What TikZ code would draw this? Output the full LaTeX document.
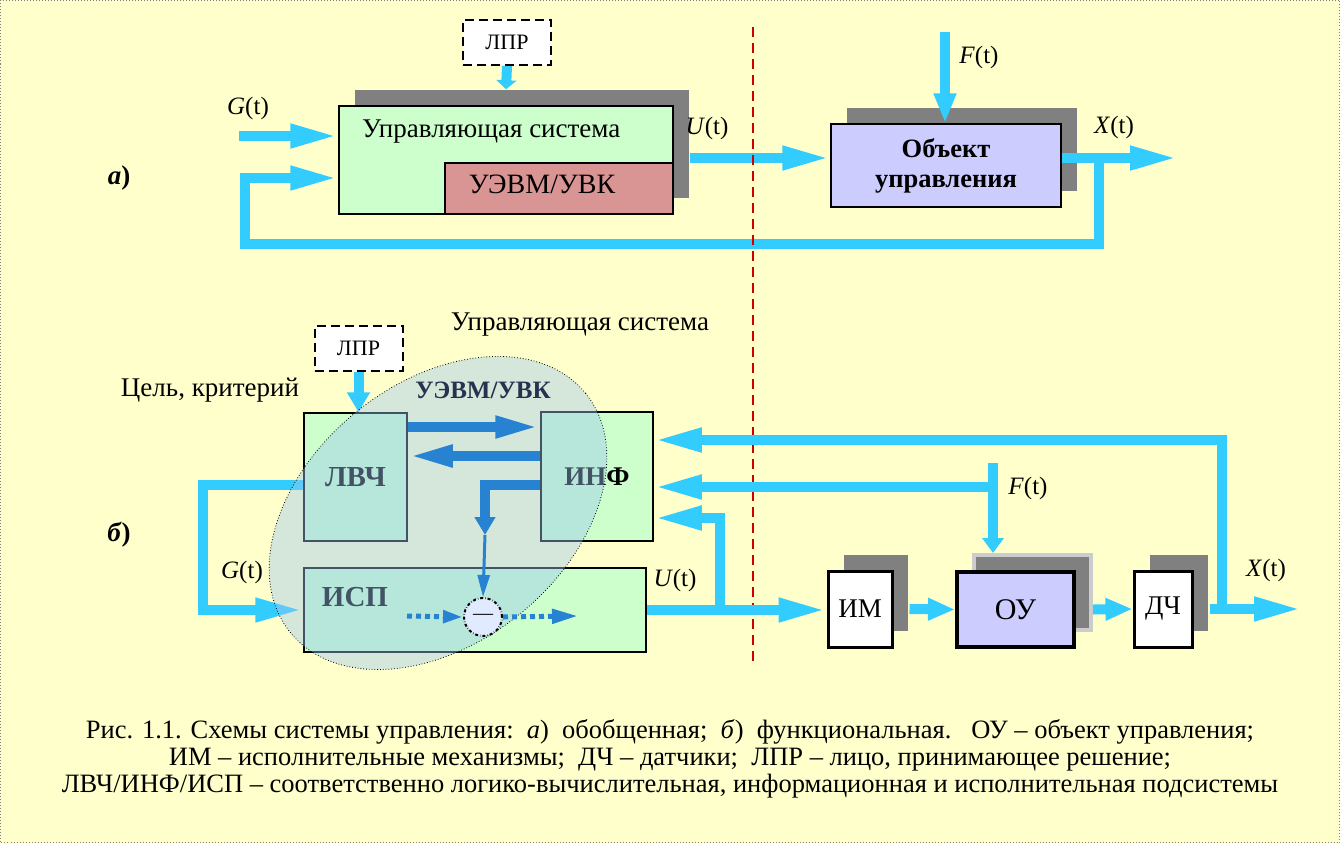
\documentclass[tikz,border=0pt]{standalone}
\usepackage{fontspec}
\setmainfont{Liberation Serif}
\usetikzlibrary{arrows.meta,shapes.geometric,shadows}

\definecolor{paper}{HTML}{FFFFCC}
\definecolor{skyflow}{HTML}{33CCFF}
\definecolor{mint}{HTML}{CCFFCC}
\definecolor{rose}{HTML}{D99594}
\definecolor{lilac}{HTML}{CCCCFF}
\definecolor{deepflow}{HTML}{2882D2}
\definecolor{haze}{HTML}{9CC8F0}
\definecolor{cut}{HTML}{CC0000}
\definecolor{slate}{HTML}{28324F}

\newcommand{\fsz}[1]{\fontsize{#1}{#1}\selectfont}

\begin{document}
\begin{tikzpicture}[x=1pt,y=-1pt,
    txt/.style={font=\fsz{25}, inner sep=0pt},
    block/.style={draw, line width=1.5pt, inner sep=0pt},
    shadowed/.style={general shadow={fill=black!50, shadow xshift=16pt, shadow yshift=16pt}},
    lpr/.style={block, fill=white, line width=2pt, dash pattern=on 9pt off 5pt,
        minimum width=88pt, minimum height=45pt, font=\fsz{22}},
    flowarrow/.style={draw=skyflow, line width=10pt, -{Triangle[length=48pt,width=22pt]}},
    deeparrow/.style={draw=deepflow, line width=10pt, -{Triangle[length=45pt,width=20pt]}}]

    \useasboundingbox (0,0) rectangle (1340,843);

    % Background
    \fill[paper] (0,0) rectangle (1340,843);
    \draw[gray, dotted, line width=1pt] (0.5,0.5) rectangle (1339.5,842.5);

    % a) generalized scheme
    \node (lpra) [lpr] at (507,42.5) {ЛПР};
    \node (usys) [block, shadowed, fill=mint, minimum width=334pt, minimum height=108pt] at (506,160) {};
    \node (uevm) [block, fill=rose, minimum width=228pt, minimum height=51pt] at (559,188.5) {};
    \node (usysname) [txt, font=\fsz{27}, anchor=west] at (362,132) {Управляющая система};
    \node (uevmname) [txt, font=\fsz{28}] at (542,184) {УЭВМ/УВК};
    \node (obj) [block, shadowed, fill=lilac, minimum width=230pt, minimum height=83pt,
        align=center, font=\bfseries\fontsize{26.5}{30}\selectfont] at (946,165.5) {Объект\\управления};

    \coordinate (ga) at (239,136);
    \coordinate (ua) at (690,158);
    \coordinate (xa) at (1178,158);
    \coordinate (fa) at (945,32);
    \coordinate (loopa) at (1099,244);
    \coordinate (backa) at (245,178);

    \draw[flowarrow] (ga) -- (ga -| usys.west);
    \draw[flowarrow] (ua) -- (ua -| obj.west);
    \draw[flowarrow] (obj.east |- xa) -- (xa);
    \draw[flowarrow] (loopa |- xa) -- (loopa) -- (backa |- loopa) -- (backa) -- (backa -| usys.west);
    \draw[flowarrow, -{Triangle[length=30pt,width=21pt]}] (fa) -- (fa |- obj.north);
    \draw[flowarrow, -{Triangle[length=9pt,width=20pt]}] (lpra.south) -- ([yshift=16pt]usys.north);

    \node (gal) [txt] at (248,108) {\textit{G}(t)};
    \node (ual) [txt] at (707,128) {\textit{U}(t)};
    \node (fal) [txt] at (979,57) {\textit{F}(t)};
    \node (xal) [txt] at (1114,127) {\textit{X}(t)};
    \node (taga) [txt, font=\bfseries\fsz{27}] at (119,178) {\textit{а})};

    % Divider
    \draw[cut, line width=2pt, dash pattern=on 10pt off 6pt] (753,27) -- (753,665);

    % b) functional scheme
    \node (lprb) [lpr] at (358.5,348.5) {ЛПР};
    \node (lvch) [block, fill=mint, minimum width=103pt, minimum height=128pt, font=\bfseries\fsz{29}] at (355.5,477) {ЛВЧ};
    \node (inf) [block, fill=mint, minimum width=112pt, minimum height=129pt, font=\bfseries\fsz{27}] at (597,476.5) {ИНФ};
    \node (isp) [block, fill=mint, minimum width=342pt, minimum height=84pt] at (475,610) {};
    \node (isptxt) [txt, font=\bfseries\fsz{29}] at (355,597) {ИСП};
    \node (im) [block, shadowed, fill=white, line width=3pt, minimum width=64pt, minimum height=76pt, font=\fsz{27}] at (860,609) {ИМ};
    \node (ou) [block, general shadow={fill=black!50, draw=gray!40, shadow xshift=17pt, shadow yshift=17pt},
        fill=lilac, line width=4pt, minimum width=117pt, minimum height=75pt, font=\fsz{30}] at (1015.5,609.5) {ОУ};
    \node (dch) [block, shadowed, fill=white, line width=3pt, minimum width=58pt, minimum height=76pt, font=\fsz{27}] at (1163,609) {ДЧ};

    \node (goal) [txt, font=\fsz{27}] at (210,390) {Цель, критерий};
    \node (usysb) [txt, font=\fsz{27}] at (580,325) {Управляющая система};

    \coordinate (gtop) at (203,485);
    \coordinate (gbot) at (203,610);
    \coordinate (ub) at (720,610);
    \coordinate (ufb) at (720,518);
    \coordinate (xb) at (1302,609);
    \coordinate (fbr) at (1222,609);
    \coordinate (fbt) at (1222,440);
    \coordinate (fb) at (993,463);
    \coordinate (fbm) at (993,487);
    \coordinate (oushd) at ([yshift=17pt]ou.north);

    \draw[flowarrow, -{Triangle[length=20pt,width=22pt]}] (lprb.south) -- (lprb.south |- lvch.north);
    \draw[flowarrow] (gtop -| lvch.west) -- (gtop) -- (gbot) -- (gbot -| isp.west);
    \draw[flowarrow] (ub -| isp.east) -- (ub -| im.west);
    \draw[flowarrow] (ub) -- (ufb) -- (ufb -| inf.east);
    \draw[flowarrow, -{Triangle[length=27pt,width=21pt]}] ([xshift=16pt]im.east) -- (ou.west);
    \draw[flowarrow, -{Triangle[length=27pt,width=21pt]}] ([xshift=17pt]ou.east) -- (dch.west);
    \draw[flowarrow] ([xshift=16pt]dch.east) -- (xb);
    \draw[flowarrow] (fbr) -- (fbt) -- (fbt -| inf.east);
    \draw[flowarrow, -{Triangle[length=15pt,width=21pt]}] (fb) -- (fb |- oushd);
    \draw[flowarrow] (fbm) -- (fbm -| inf.east);

    \node (gbl) [txt] at (242,572) {\textit{G}(t)};
    \node (ubl) [txt] at (675,580) {\textit{U}(t)};
    \node (fbl) [txt] at (1028,488) {\textit{F}(t)};
    \node (xbl) [txt] at (1266,570) {\textit{X}(t)};
    \node (tagb) [txt, font=\bfseries\fsz{27}] at (119,535) {\textit{б})};

    % Computer part
    \node (uvk) [ellipse, draw, dotted, line width=0.8pt, fill=haze, fill opacity=0.42,
        minimum width=380pt, minimum height=260pt, rotate=39] at (438,513) {};
    \node (uvkname) [txt, font=\bfseries\fsz{25}, text=slate] at (483,390) {УЭВМ/УВК};

    \coordinate (l2i) at (475,427);
    \coordinate (i2l) at (475,456);
    \coordinate (i2c) at (485,485);
    \coordinate (bend) at (485,535);
    \coordinate (din) at (407,616);
    \coordinate (dout) at (578,616);

    \node (diff) [circle, draw, dash dot, line width=2pt, fill={rgb,255:red,225;green,235;blue,255},
        minimum size=38pt, inner sep=0pt, font=\fsz{20}] at (483,617) {—};

    \draw[deeparrow] (l2i -| lvch.east) -- (l2i -| inf.west);
    \draw[deeparrow] (i2l -| inf.west) -- (i2l -| lvch.east);
    \draw[deeparrow, -{Triangle[length=18pt,width=20pt]}] (i2c -| inf.west) -- (i2c) -- (bend);
    \draw[deepflow, line width=3pt, -{Triangle[length=22pt,width=12pt]}] (bend) -- (diff.north);
    \draw[deepflow, line width=5pt, dash pattern=on 5pt off 4pt, -{Triangle[length=20pt,width=12pt]}] (din) -- (diff.west);
    \draw[deepflow, line width=5pt, dash pattern=on 5pt off 4pt, -{Triangle[length=26pt,width=14pt]}] (diff.east) -- (dout);

    % Caption
    \node (caption) [align=center, inner sep=0pt, font=\fontsize{26.5}{27}\selectfont] at (670,759)
        {Рис. 1.1. Схемы системы управления:\ \ \textit{а})\ \ обобщенная;\ \ \textit{б})\ \ функциональная.\ \ \ ОУ – объект управления;\\
         ИМ – исполнительные механизмы;\ \ ДЧ – датчики;\ \ ЛПР – лицо, принимающее решение;\\
         ЛВЧ/ИНФ/ИСП – соответственно логико-вычислительная, информационная и исполнительная подсистемы};
\end{tikzpicture}
\end{document}
